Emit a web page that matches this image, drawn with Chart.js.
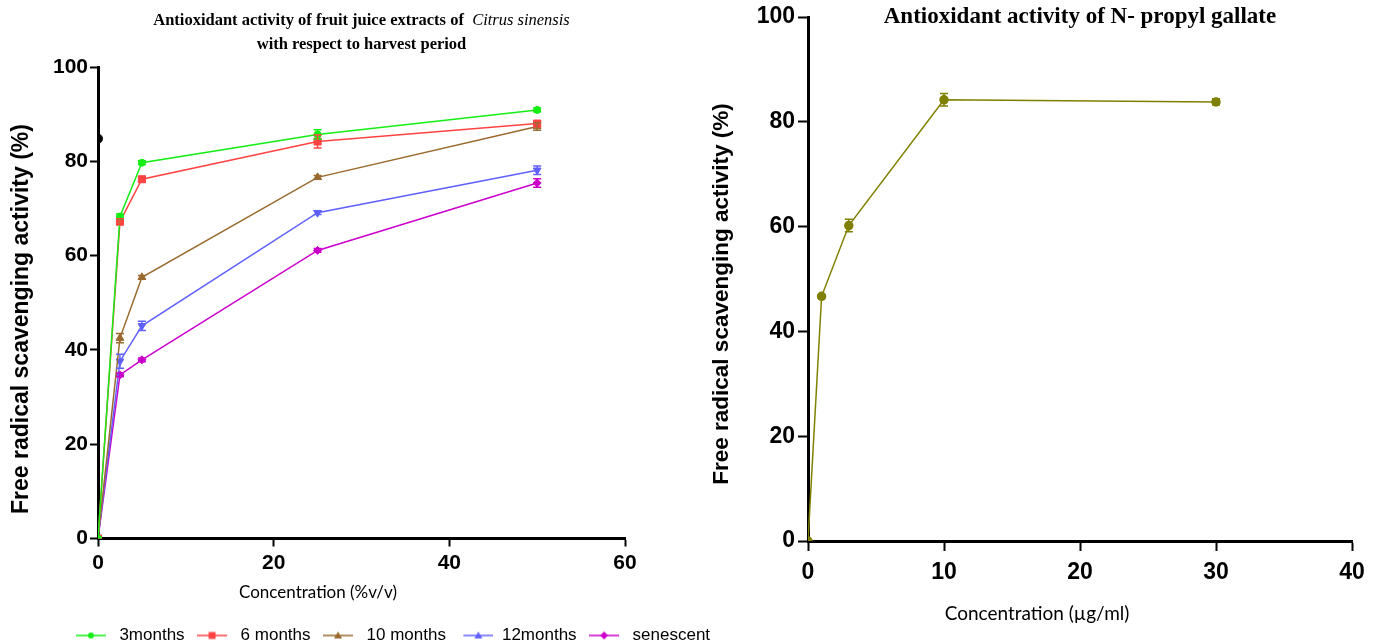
<!DOCTYPE html>
<html lang="en">
<head>
<meta charset="UTF-8">
<title>Antioxidant activity</title>
<script src="https://cdn.jsdelivr.net/npm/chart.js"></script>
<style>
    body { margin: 0; background: #fff; }
    .wrap { position: relative; width: 1376px; height: 643px; overflow: hidden; }
    #juiceChart { position: absolute; left: 0; top: 0; }
    #gallateChart { position: absolute; left: 690px; top: 0; }
</style>
</head>
<body>
<div class="wrap">
    <canvas id="juiceChart" width="786" height="654"></canvas>
    <canvas id="gallateChart" width="686" height="643"></canvas>
</div>
<script>
// Citrus sinensis juice extracts, concentration in %v/v
const juiceConc = [0, 2.5, 5, 25, 50];
const threeMonths = [0, 68.3, 79.7, 85.7, 90.9];
const threeMonthsErr = [0, 0.5, 0.4, 1.0, 0.4];
const sixMonths = [0, 67.2, 76.2, 84.2, 88.0];
const sixMonthsErr = [0, 0.6, 0.5, 1.4, 0.6];
const tenMonths = [0, 42.5, 55.4, 76.6, 87.4];
const tenMonthsErr = [0, 1.0, 0.4, 0.4, 0.8];
const twelveMonths = [0, 37.6, 45.1, 69.1, 78.1];
const twelveMonthsErr = [0, 1.5, 1.0, 0.4, 0.9];
const senescent = [0, 34.7, 37.9, 61.1, 75.4];
const senescentErr = [0, 0.4, 0.4, 0.4, 0.9];
// lone black point sitting on the y axis
const refConc = [0];
const refVal = [84.8];

// N-propyl gallate, concentration in µg/ml
const gallateConc = [0, 1, 3, 10, 30];
const gallateVal = [0, 46.7, 60.2, 84.2, 83.8];
const gallateErr = [0, 0.3, 1.2, 1.2, 0.6];

const juiceTicksX = [0, 20, 40, 60];
const gallateTicksX = [0, 10, 20, 30, 40];
const ticksY = [0, 20, 40, 60, 80, 100];

const SANS = "'Liberation Sans', Arial, sans-serif";
const SERIF = "'Liberation Serif', 'Times New Roman', serif";
const CALI = "Lato, 'Open Sans', sans-serif";

function pts(xs, ys) {
    return xs.map((x, i) => ({ x: x, y: ys[i] }));
}

// error bars, drawn through the chart scales
const errorBars = {
    id: 'errorBars',
    afterDatasetsDraw(chart) {
        const ctx = chart.ctx;
        const xs = chart.scales.x, ys = chart.scales.y;
        chart.data.datasets.forEach(ds => {
            if (!ds.errors) return;
            ctx.save();
            ctx.strokeStyle = ds.borderColor;
            ctx.lineWidth = 1.5;
            ds.data.forEach((p, i) => {
                const e = ds.errors[i];
                if (!e) return;
                const x = xs.getPixelForValue(p.x);
                const top = ys.getPixelForValue(p.y + e);
                const bot = ys.getPixelForValue(p.y - e);
                ctx.beginPath();
                ctx.moveTo(x, top); ctx.lineTo(x, bot);
                ctx.moveTo(x - 4, top); ctx.lineTo(x + 4, top);
                ctx.moveTo(x - 4, bot); ctx.lineTo(x + 4, bot);
                ctx.stroke();
            });
            ctx.restore();
        });
    }
};

// chart heading (mixed bold / italic) and the axis captions
const captions = {
    id: 'captions',
    afterDraw(chart, args, opts) {
        const ctx = chart.ctx;
        const cx = (chart.chartArea.left + chart.chartArea.right) / 2;
        ctx.save();
        ctx.fillStyle = '#000';
        ctx.textBaseline = 'middle';
        ctx.textAlign = 'left';
        (opts.lines || []).forEach(line => {
            let w = 0;
            line.parts.forEach(p => { ctx.font = p.font; w += ctx.measureText(p.text).width; });
            let x = cx - w / 2;
            line.parts.forEach(p => {
                ctx.font = p.font;
                ctx.fillText(p.text, x, line.y);
                x += ctx.measureText(p.text).width;
            });
        });
        (opts.axes || []).forEach(t => {
            ctx.save();
            ctx.font = t.font;
            ctx.textAlign = 'center';
            ctx.translate(t.x, t.y);
            if (t.rot) ctx.rotate(t.rot);
            ctx.fillText(t.text, 0, 0);
            ctx.restore();
        });
        ctx.restore();
    }
};

// legend icon: short line with the series marker in the middle
function legendIcon(color, shape) {
    const c = document.createElement('canvas');
    c.width = 35; c.height = 12;
    const g = c.getContext('2d');
    g.strokeStyle = color; g.fillStyle = color; g.lineWidth = 1.5;
    g.beginPath(); g.moveTo(0, 6); g.lineTo(30, 6); g.stroke();
    g.beginPath();
    if (shape === 'circle') g.arc(15, 6, 3, 0, Math.PI * 2);
    else if (shape === 'rect') g.rect(11.5, 2.5, 7, 7);
    else if (shape === 'triangle') { g.moveTo(15, 2); g.lineTo(19, 9); g.lineTo(11, 9); g.closePath(); }
    else if (shape === 'down') { g.moveTo(15, 10); g.lineTo(19, 3); g.lineTo(11, 3); g.closePath(); }
    else { g.moveTo(15, 2); g.lineTo(19, 6); g.lineTo(15, 10); g.lineTo(11, 6); g.closePath(); }
    g.fill();
    return c;
}

function series(label, ys, errs, color, style, radius, rotation, icon) {
    return {
        label: label,
        data: pts(juiceConc, ys),
        errors: errs,
        borderColor: color,
        backgroundColor: color,
        borderWidth: 1.5,
        pointStyle: style,
        pointRotation: rotation,
        pointRadius: radius,
        pointBorderWidth: 1,
        tension: 0,
        icon: legendIcon(color, icon)
    };
}

function axisStyle(w) {
    return {
        grid: { display: true, drawOnChartArea: false, drawTicks: true, tickLength: w, tickWidth: 2, tickColor: '#000' },
        border: { display: true, color: '#000', width: 3 }
    };
}

new Chart(document.getElementById('juiceChart'), {
    type: 'line',
    data: {
        datasets: [
            series('3months', threeMonths, threeMonthsErr, '#14ee14', 'circle', 3.5, 0, 'circle'),
            series('6 months', sixMonths, sixMonthsErr, '#ff4343', 'rect', 5, 0, 'rect'),
            series('10 months', tenMonths, tenMonthsErr, '#9a6a2e', 'triangle', 4.5, 0, 'triangle'),
            series('12months', twelveMonths, twelveMonthsErr, '#6060ff', 'triangle', 4.5, 180, 'down'),
            series('senescent', senescent, senescentErr, '#cc00cc', 'rectRot', 4, 0, 'diamond'),
            {
                label: 'ref',
                data: pts(refConc, refVal),
                borderColor: '#000',
                backgroundColor: '#000',
                pointRadius: 4.5,
                showLine: false
            }
        ]
    },
    options: {
        responsive: false,
        animation: false,
        layout: { padding: { top: 67, left: 0, right: 0, bottom: 0 } },
        plugins: {
            legend: {
                position: 'bottom',
                labels: {
                    usePointStyle: true,
                    pointStyleWidth: 35,
                    boxHeight: 12,
                    padding: 12.5,
                    color: '#000',
                    font: { family: SANS, size: 17 },
                    filter: item => item.text !== 'ref',
                    generateLabels(chart) {
                        const base = Chart.defaults.plugins.legend.labels.generateLabels(chart);
                        return base.map(l => {
                            l.pointStyle = chart.data.datasets[l.datasetIndex].icon;
                            return l;
                        });
                    }
                }
            },
            tooltip: { enabled: false },
            captions: {
                lines: [
                    { y: 21, parts: [
                        { text: 'Antioxidant activity of fruit juice extracts of  ', font: 'bold 16.5px ' + SERIF },
                        { text: 'Citrus sinensis', font: 'italic 16.5px ' + SERIF }
                    ] },
                    { y: 45, parts: [
                        { text: 'with respect to harvest period', font: 'bold 16.5px ' + SERIF }
                    ] }
                ],
                axes: [
                    { text: 'Concentration (%v/v)', x: 318, y: 593, font: '17px ' + CALI },
                    { text: 'Free radical scavenging activity (%)', x: 22, y: 319, rot: -Math.PI / 2, font: 'bold 23px ' + SANS }
                ]
            }
        },
        scales: {
            x: Object.assign({
                type: 'linear', position: 'bottom', min: 0, max: 60,
                afterBuildTicks: s => { s.ticks = juiceTicksX.map(v => ({ value: v })); },
                afterFit: s => { s.height = 76; },
                ticks: { color: '#000', padding: 4, font: { family: SANS, size: 21, weight: 'bold' } }
            }, axisStyle(8)),
            y: Object.assign({
                type: 'linear', position: 'left', min: 0, max: 100,
                afterBuildTicks: s => { s.ticks = ticksY.map(v => ({ value: v })); },
                afterFit: s => { s.width = 98; },
                ticks: { color: '#000', padding: 2, font: { family: SANS, size: 21, weight: 'bold' } }
            }, axisStyle(8)),
            // empty right gutter so the legend centres like the original
            gutter: {
                type: 'linear', position: 'right', display: true,
                grid: { display: false }, border: { display: false }, ticks: { display: false },
                afterFit: s => { s.width = 161; }
            }
        }
    },
    plugins: [errorBars, captions]
});

new Chart(document.getElementById('gallateChart'), {
    type: 'line',
    data: {
        datasets: [{
            label: 'N-propyl gallate',
            data: pts(gallateConc, gallateVal),
            errors: gallateErr,
            borderColor: '#808000',
            backgroundColor: '#808000',
            borderWidth: 1.5,
            pointRadius: 4,
            tension: 0
        }]
    },
    options: {
        responsive: false,
        animation: false,
        layout: { padding: { top: 17, left: 0, right: 24, bottom: 0 } },
        plugins: {
            legend: { display: false },
            tooltip: { enabled: false },
            captions: {
                lines: [
                    { y: 17, parts: [
                        { text: 'Antioxidant activity of N- propyl gallate', font: 'bold 23px ' + SERIF }
                    ] }
                ],
                axes: [
                    { text: 'Concentration (µg/ml)', x: 347, y: 614, font: '19px ' + CALI },
                    { text: 'Free radical scavenging activity (%)', x: 32, y: 294, rot: -Math.PI / 2, font: 'bold 22.5px ' + SANS }
                ]
            }
        },
        scales: {
            x: Object.assign({
                type: 'linear', position: 'bottom', min: 0, max: 40,
                afterBuildTicks: s => { s.ticks = gallateTicksX.map(v => ({ value: v })); },
                afterFit: s => { s.height = 102; },
                ticks: { color: '#000', padding: 8, font: { family: SANS, size: 23, weight: 'bold' } }
            }, axisStyle(10)),
            y: Object.assign({
                type: 'linear', position: 'left', min: 0, max: 100,
                afterBuildTicks: s => { s.ticks = ticksY.map(v => ({ value: v })); },
                afterFit: s => { s.width = 118; },
                ticks: { color: '#000', padding: 3, font: { family: SANS, size: 23, weight: 'bold' } }
            }, axisStyle(10))
        }
    },
    plugins: [errorBars, captions]
});
</script>
</body>
</html>
